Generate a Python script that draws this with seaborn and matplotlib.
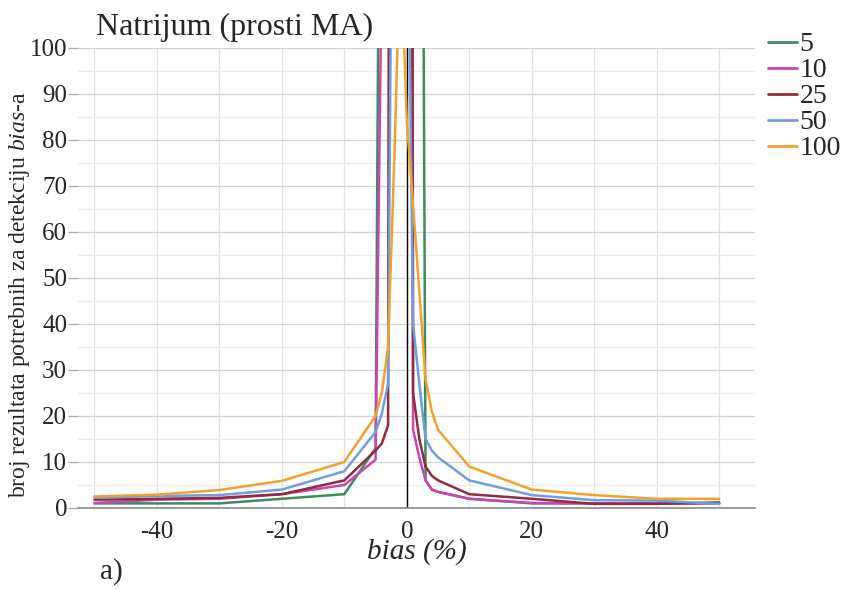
import matplotlib
matplotlib.use("Agg")
import matplotlib.pyplot as plt
import seaborn as sns
import pandas as pd
from matplotlib.ticker import MultipleLocator
from matplotlib.lines import Line2D

# ---- data ----
bias = [-50, -40, -30, -20, -10, -5, -4, -3, -2, -1, 0, 1, 2, 3, 4, 5, 10, 20, 30, 40, 50]
n5 = [1.0, 1.0, 1.0, 2.0, 3.0, 13.0, 230, 600, 900, 1200, 1500, 1200, 320, 6.0, 4.0, 3.5, 2.0, 1.0, 1.0, 1.0, 1.0]
n10 = [1.1, 1.8, 2.0, 3.0, 5.0, 10.5, 120, 500, 800, 1000, 1200, 17.0, 11.0, 6.0, 4.0, 3.5, 2.0, 1.1, 1.0, 1.0, 1.0]
n25 = [1.8, 2.0, 2.2, 3.0, 6.0, 12.5, 14.0, 18.0, 800, 900, 775, 25.0, 15.0, 9.0, 7.0, 6.0, 3.0, 2.0, 0.9, 0.9, 1.2]
n50 = [2.2, 2.6, 2.8, 4.0, 8.0, 16.5, 20.5, 27.0, 210, 300, 150, 40.0, 27.0, 15.0, 12.5, 11.0, 6.0, 2.8, 1.7, 1.6, 0.9]
n100 = [2.5, 2.9, 3.9, 5.9, 10.0, 20.0, 25.0, 35.0, 76.0, 124.0, 84.0, 66.0, 47.0, 28.0, 21.0, 17.0, 9.0, 4.0, 2.8, 2.0, 2.0]
series_names = ["5", "10", "25", "50", "100"]
colors = ["#3d8c5f", "#cc44b0", "#8e2d40", "#6e9ee0", "#f2a22c"]
yticks = list(range(0, 101, 10))
xticks = [-40, -20, 0, 20, 40]

rows = []
for name, vals in zip(series_names, [n5, n10, n25, n50, n100]):
    for b, v in zip(bias, vals):
        rows.append({"bias": b, "n": v, "MA": name})
df = pd.DataFrame(rows)

sns.set_style("white")
plt.rcParams["font.family"] = ["Liberation Serif", "DejaVu Serif"]
plt.rcParams["axes.unicode_minus"] = False
plt.rcParams["mathtext.fontset"] = "custom"
plt.rcParams["mathtext.rm"] = "Liberation Serif"
plt.rcParams["mathtext.it"] = "Liberation Serif:italic"

fig = plt.figure(figsize=(8.5, 5.9), dpi=100)
ax = fig.add_axes([0.092, 0.139, 0.796, 0.780])

sns.lineplot(data=df, x="bias", y="n", hue="MA", hue_order=series_names,
             palette=colors, sort=False, estimator=None, lw=1.8, ax=ax, legend=False)

ax.set_xlim(-52.6, 55.7)
ax.set_ylim(0, 100)
ax.set_xticks(xticks)
ax.set_yticks(yticks)
ax.xaxis.set_minor_locator(MultipleLocator(10))
ax.yaxis.set_minor_locator(MultipleLocator(5))
ax.grid(which="major", axis="y", color="#d4d4d4", lw=0.9)
ax.grid(which="minor", axis="y", color="#ececec", lw=0.9)
ax.grid(which="both", axis="x", color="#e2e2e2", lw=0.9)
ax.set_axisbelow(True)
ax.axvline(0, color="black", lw=1.0, zorder=1)

for s in ["top", "right", "left"]:
    ax.spines[s].set_visible(False)
ax.spines["bottom"].set_color("#8a8a8a")
ax.spines["bottom"].set_linewidth(1.2)

ax.tick_params(axis="y", which="major", left=True, length=7, width=0.9, color="#aaaaaa",
               labelsize=18, pad=1)
ax.tick_params(axis="y", which="minor", left=False)
ax.tick_params(axis="x", which="both", bottom=False, labelsize=18, pad=6)

ax.set_xlabel("bias (%)", fontsize=21, style="italic", labelpad=-4)
ax.set_ylabel(r"broj rezultata potrebnih za detekciju $\it{bias}$-a", fontsize=17, labelpad=0)
ax.yaxis.set_label_coords(-0.068, 0.463)

fig.text(0.113, 0.928, "Natrijum (prosti MA)", fontsize=23, ha="left", va="bottom")
fig.text(0.118, 0.008, "a)", fontsize=21, ha="left", va="bottom")

handles = [Line2D([], [], color=c, lw=2) for c in colors]
fig.legend(handles, series_names, loc="upper left", bbox_to_anchor=(0.903, 0.946),
           frameon=False, fontsize=20, handlelength=1.05, handletextpad=0.1,
           labelspacing=0.02, borderaxespad=0, borderpad=0)

fig.savefig("out.png", dpi=100)
